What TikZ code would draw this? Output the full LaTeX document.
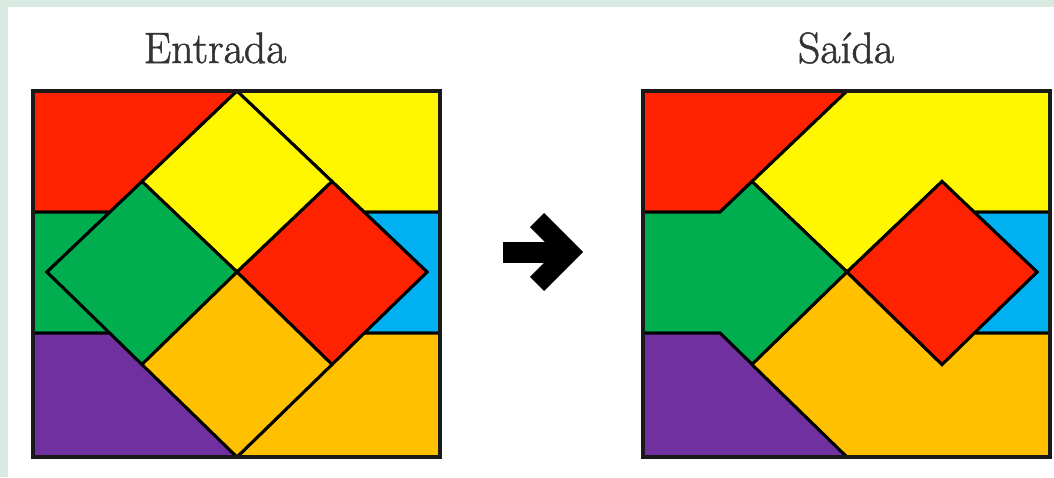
\documentclass[tikz,border=0pt]{standalone}
\usepackage{fontspec}
\usepackage{xcolor}
\usetikzlibrary{positioning}

\newfontfamily\titlefont[FakeBold=1.2]{Latin Modern Roman}

\definecolor{mint}{RGB}{216,234,225}
\definecolor{pRed}{RGB}{255,34,0}
\definecolor{pYellow}{RGB}{255,247,0}
\definecolor{pGreen}{RGB}{0,174,80}
\definecolor{pBlue}{RGB}{0,176,240}
\definecolor{pOrange}{RGB}{255,192,0}
\definecolor{pPurple}{RGB}{112,48,160}

\newcommand{\panelpoints}{%
    \coordinate (nw) at (0,0);     \coordinate (ne) at (407,0);
    \coordinate (sw) at (0,366);   \coordinate (se) at (407,366);
    \coordinate (t)  at (204,0);   \coordinate (b)  at (204,366);
    \coordinate (l)  at (14,181);  \coordinate (r)  at (394,181);
    \coordinate (c)  at (204,181);
    \coordinate (tl) at (109,90.5);  \coordinate (tr) at (299,90.5);
    \coordinate (bl) at (109,273.5); \coordinate (br) at (299,273.5);
    \coordinate (a1) at (0,121);   \coordinate (a2) at (77,121);
    \coordinate (a3) at (331,121); \coordinate (a4) at (407,121);
    \coordinate (b1) at (0,242);   \coordinate (b2) at (77,242);
    \coordinate (b3) at (331,242); \coordinate (b4) at (407,242);
}

\begin{document}
\begin{tikzpicture}[
        x=0.02cm, y=-0.02cm,
        piece/.style={draw=black, line width=0.06cm, line join=miter},
        frame/.style={draw=black!90, line width=0.08cm},
        title/.style={anchor=base, text=black!80, inner sep=0pt,
                      font=\titlefont\fontsize{25}{30}\selectfont},
        bigarrow/.style={line width=0.42cm},
        chevron/.style={line width=0.4cm, line join=miter},
    ]
        \useasboundingbox (0,0) rectangle (1054,477);
        \fill[mint] (0,0) rectangle (1054,477);
        \fill[white] (8,7) rectangle (1054,477);

        \node[title] (entrada) at (215,63) {Entrada};
        \node[title] (saida)   at (846,63) {Saída};

        \begin{scope}[shift={(33,91)}]
            \panelpoints
            \filldraw[piece, fill=pRed]    (nw) -- (t) -- (a2) -- (a1) -- cycle;
            \filldraw[piece, fill=pYellow] (t) -- (ne) -- (a4) -- (a3) -- cycle;
            \filldraw[piece, fill=pGreen]  (a1) -- (a2) -- (l) -- (b2) -- (b1) -- cycle;
            \filldraw[piece, fill=pBlue]   (a3) -- (a4) -- (b4) -- (b3) -- (r) -- cycle;
            \filldraw[piece, fill=pPurple] (b1) -- (b2) -- (b) -- (sw) -- cycle;
            \filldraw[piece, fill=pOrange] (b3) -- (b4) -- (se) -- (b) -- cycle;
            \filldraw[piece, fill=pYellow] (t) -- (tr) -- (c) -- (tl) -- cycle;
            \filldraw[piece, fill=pGreen]  (tl) -- (c) -- (bl) -- (l) -- cycle;
            \filldraw[piece, fill=pRed]    (tr) -- (r) -- (br) -- (c) -- cycle;
            \filldraw[piece, fill=pOrange] (c) -- (br) -- (b) -- (bl) -- cycle;
            \draw[frame] (nw) rectangle (se);
        \end{scope}

        \coordinate (arrtail) at (503,252);
        \coordinate (arrtip)  at (569,252);
        \draw[bigarrow] (arrtail) -- ([xshift=-0.1cm]arrtip);
        \draw[chevron] ([shift={(-32,-32)}]arrtip) -- (arrtip) -- ([shift={(-32,32)}]arrtip);

        \begin{scope}[shift={(643,91)}]
            \panelpoints
            \filldraw[piece, fill=pRed]    (nw) -- (t) -- (a2) -- (a1) -- cycle;
            \filldraw[piece, fill=pYellow] (t) -- (ne) -- (a4) -- (a3) -- (tr) -- (c) -- (tl) -- cycle;
            \filldraw[piece, fill=pGreen]  (a1) -- (a2) -- (tl) -- (c) -- (bl) -- (b2) -- (b1) -- cycle;
            \filldraw[piece, fill=pBlue]   (a3) -- (a4) -- (b4) -- (b3) -- (r) -- cycle;
            \filldraw[piece, fill=pPurple] (b1) -- (b2) -- (b) -- (sw) -- cycle;
            \filldraw[piece, fill=pOrange] (c) -- (br) -- (b3) -- (b4) -- (se) -- (b) -- (bl) -- cycle;
            \filldraw[piece, fill=pRed]    (tr) -- (r) -- (br) -- (c) -- cycle;
            \draw[frame] (nw) rectangle (se);
        \end{scope}
    \end{tikzpicture}
\end{document}
